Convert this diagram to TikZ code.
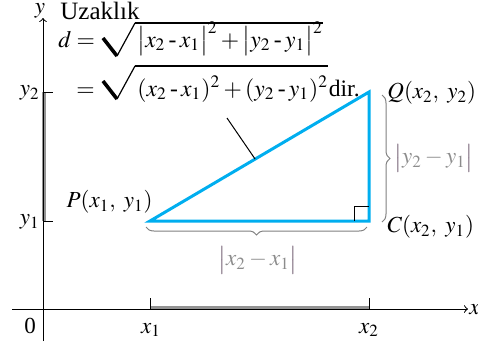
\documentclass[tikz,border=0pt]{standalone}
\usepackage{mathptmx}
\usepackage{amsmath}
\usepackage{fontspec}
\setmainfont{Liberation Serif}
\usetikzlibrary{calc,decorations.pathreplacing}
\definecolor{tricyan}{RGB}{0,174,239}
\definecolor{txtgray}{RGB}{140,140,140}
\definecolor{barcol}{RGB}{115,95,115}
\newcommand{\dmin}{\mathbin{\text{-}}}
\newcommand{\gbar}{\textcolor{barcol}{\bigl|}}
\begin{document}
\begin{tikzpicture}[x=0.5pt,y=-0.5pt,
        axis/.style={black, line width=0.5pt},
        span/.style={gray!85, line width=2pt},
        side/.style={tricyan, line width=1.5pt, line join=miter},
        brace/.style={decorate, decoration={brace, amplitude=4pt},
            gray, line width=0.5pt},
        lbl/.style={font=\fontsize{11.5}{14}\selectfont, inner sep=0pt},
        glbl/.style={lbl, text=txtgray},
        formula/.style={font=\fontsize{11.8}{14}\selectfont, inner sep=0pt,
            anchor=base west},
        vinculum/.style={line width=0.6pt}]
        \tikzset{radical/.pic={
            \draw[line width=1.8pt] (0,0) -- (14,18);
            \draw[line width=0.6pt] (14,18) -- (32,-15);
        }}
        \useasboundingbox (0,0) rectangle (478,345);

        \coordinate (P) at (150,221);
        \coordinate (C) at (369,221);
        \coordinate (Q) at (369,92);

        % Axes, ticks and the projections.
        \draw[span] (150,308) -- (369,308);
        \draw[span] (44,92) -- (44,221);
        \draw[axis,-{To[scale=1.4]}] (12,309) -- (468,309);
        \draw[axis,-{To[scale=1.4]}] (43,341) -- (43,18);
        \draw[axis] (150,309) -- (150,298) (369,309) -- (369,298);
        \draw[axis] (43,221) -- (53,221) (43,92) -- (53,92);

        \node[lbl,anchor=north] (ylab) at (40,3) {$y$};
        \node[lbl,anchor=west] (xlab) at (469,310) {$x$};
        \node[lbl] (zero) at (30,326) {0};
        \node[lbl] (x1lab) at (151,330) {$x_1$};
        \node[lbl] (x2lab) at (369,330) {$x_2$};
        \node[lbl,anchor=east] (y2lab) at (40,93) {$y_2$};
        \node[lbl,anchor=east] (y1lab) at (40,222) {$y_1$};

        % The triangle.
        \draw[side] (P) -- (C) -- (Q) -- cycle;
        \draw[axis] ($(C)+(-15,0)$) |- ($(C)+(0,-15)$);
        \node[lbl,anchor=east] (plab) at (153,202) {$P(x_1,\ y_1)$};
        \node[lbl,anchor=west] (qlab) at (387,93) {$Q(x_2,\ y_2)$};
        \node[lbl,anchor=west] (clab) at (387,227) {$C(x_2,\ y_1)$};

        % Braces for the two sides.
        \draw[brace] (367,227) -- (146,227);
        \draw[brace] (382,95) -- (382,222);
        \node[glbl] (dx) at (258,260) {$\gbar x_2 - x_1\gbar$};
        \node[glbl,anchor=west] (dy) at (394,158) {$\gbar y_2 - y_1\gbar$};

        % The distance formula.
        \node[anchor=west, inner sep=0pt, font=\fontsize{12.5}{14}\selectfont]
            (title) at (60,10.5) {Uzaklık};
        \node[formula] (deq) at (58,47) {$d =$};
        \node[formula] (rad1) at (137,47)
            {$\bigl|x_2 \dmin x_1\bigr|^2 + \bigl|y_2 \dmin y_1\bigr|^2$};
        \node[formula] (eq2) at (76,96) {$=$};
        \node[formula] (rad2) at (137,96)
            {$(x_2 \dmin x_1)^2 + (y_2 \dmin y_1)^2$};
        \node[formula] (dir) at (rad2.base east) {dir.};
        \pic at (103,38) {radical};
        \pic at (103,81) {radical};
        \draw[vinculum] (135,23) -- (135,23 -| rad1.east);
        \draw[vinculum] (135,66) -- (135,66 -| rad2.east);
        \coordinate (tag) at (227,118);
        \draw[axis] (tag) -- ($(P)!0.48!(Q)$);
    \end{tikzpicture}
\end{document}
